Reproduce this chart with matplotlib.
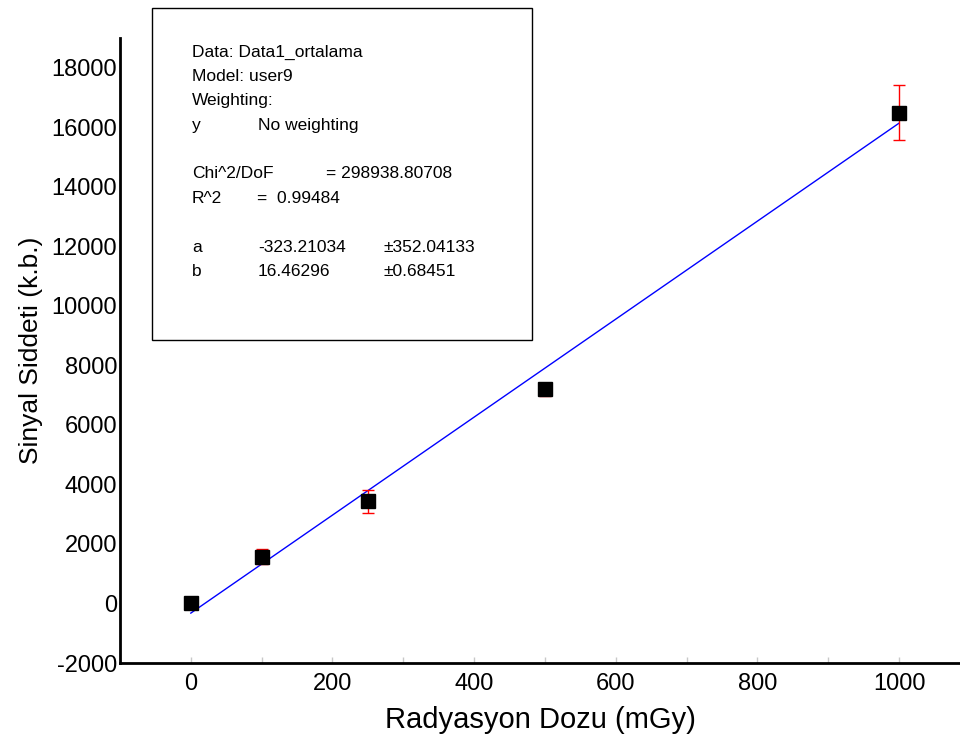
import numpy as np
import matplotlib.pyplot as plt
from matplotlib.ticker import MultipleLocator

plt.rcParams['font.family'] = ['Liberation Sans', 'DejaVu Sans']
plt.rcParams['axes.unicode_minus'] = False

dose = [0, 100, 250, 500, 1000]
signal = [0, 1575, 3430, 7190, 16490]
err = [0, 250, 390, 220, 920]

# fit parameters from the box
a_fit = -323.21034
b_fit = 16.46296
x_fit = np.linspace(0, 1000, 50)
y_fit = a_fit + b_fit * x_fit

# text box rows: (line index, [(x pixel, text), ...])
info_rows = [
    (0, [(192, "Data: Data1_ortalama")]),
    (1, [(192, "Model: user9")]),
    (2, [(192, "Weighting:")]),
    (3, [(192, "y"), (258, "No weighting")]),
    (5, [(192, "Chi^2/DoF"), (326, "= 298938.80708")]),
    (6, [(192, "R^2"), (257, "=  0.99484")]),
    (8, [(192, "a"), (258, "-323.21034"), (383, "\u00b1352.04133")]),
    (9, [(192, "b"), (258, "16.46296"), (383, "\u00b10.68451")]),
]

W, H = 960, 738
fig = plt.figure(figsize=(9.6, 7.38), dpi=100)
ax = fig.add_axes([120/W, 1-663/H, 1-120/W, (663-38)/H])

ax.plot(x_fit, y_fit, color='blue', lw=1)
ax.errorbar(dose, signal, yerr=err, fmt='none', ecolor='red', elinewidth=1,
            capsize=4.5, capthick=1)
ax.plot(dose, signal, 's', color='black', ms=10, zorder=3)

ax.set_xlim(-100, 1086)
ax.set_ylim(-2000, 19000)
ax.set_xticks([0, 200, 400, 600, 800, 1000])
ax.xaxis.set_minor_locator(MultipleLocator(100))
ax.set_yticks(np.arange(-2000, 18001, 2000))
ax.tick_params(axis='x', which='both', direction='in', length=4, width=1,
               color='#c8c8c8', labelsize=17, pad=7)
ax.tick_params(axis='y', length=0, labelsize=17, pad=2)
for s in ['top', 'right']:
    ax.spines[s].set_visible(False)
for s in ['left', 'bottom']:
    ax.spines[s].set_linewidth(2)

ax.set_xlabel('Radyasyon Dozu (mGy)', fontsize=21, labelpad=8)
ax.set_ylabel('Sinyal Siddeti (k.b.)', fontsize=19, labelpad=6)

fig.patches.append(plt.Rectangle((152/W, 1-340/H), 380/W, 332/H,
                                 transform=fig.transFigure, fill=False,
                                 edgecolor='black', lw=1))
for i, cells in info_rows:
    yp = 52 + i * 24.4
    for xp, txt in cells:
        fig.text(xp/W, 1-yp/H, txt, fontsize=12.5, va='center', ha='left')

fig.savefig('out.png', dpi=100)
